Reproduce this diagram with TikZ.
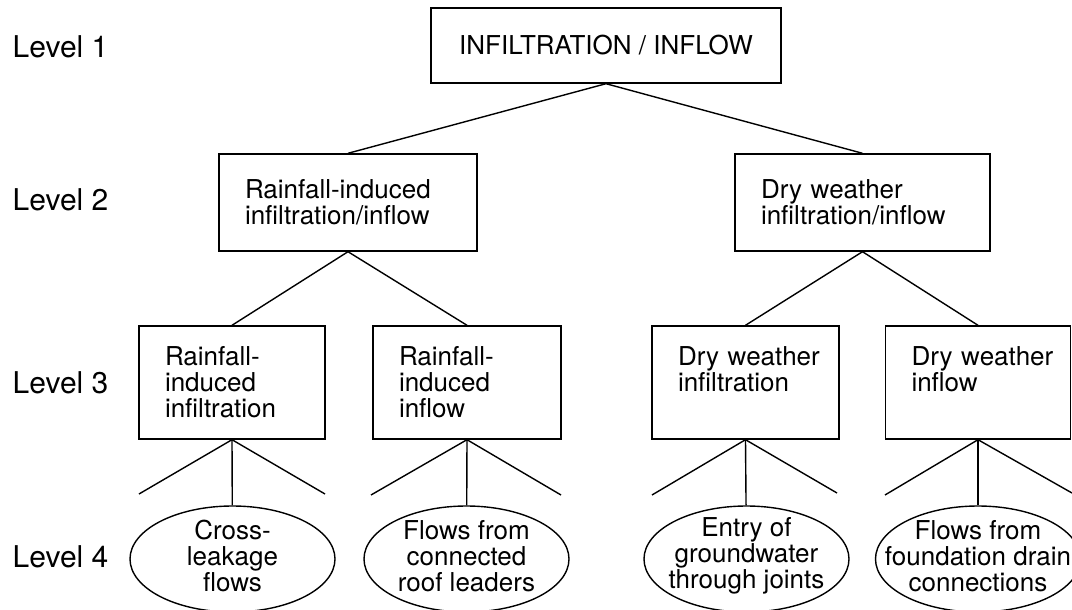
\documentclass[tikz,border=0pt]{standalone}
\usepackage{fontspec}
\setmainfont{TeX Gyre Heros}
\usepackage{tikz}
\usetikzlibrary{shapes.geometric}
\tikzset{
    lvl/.style={anchor=west, inner sep=0pt, font=\fontsize{30}{32}\selectfont},
    box/.style={draw, inner xsep=26pt, inner ysep=0pt, align=left, font=\fontsize{26}{26}\selectfont},
    oval/.style={shape=ellipse, draw, inner sep=0pt, minimum width=205pt, minimum height=106pt},
    ovaltext/.style={align=center, font=\fontsize{26}{26}\selectfont, yshift=3pt}}

\begin{document}
\begin{tikzpicture}[x=1pt, y=-1pt, line width=1.4pt]

        \useasboundingbox (0,0) rectangle (1072,610);

        \node[lvl] (lv1) at (12,47) {Level 1};
        \node[lvl] (lv2) at (12,200) {Level 2};
        \node[lvl] (lv3) at (12,383) {Level 3};
        \node[lvl] (lv4) at (12,557) {Level 4};

        \node[box, align=center, inner xsep=0pt, minimum width=350pt, minimum height=75pt] (L1) at (606,45.5) {INFILTRATION / INFLOW};

        \node[box, text width=206pt, minimum height=97pt] (L2a) at (348,202.5) {Rainfall-induced\\infiltration/inflow};
        \node[box, text width=203pt, minimum height=97pt] (L2b) at (862.5,202.5) {Dry~weather\\infiltration/inflow};

        \node[box, text width=134pt, minimum height=113pt] (L3a) at (232,382.5) {Rainfall-\\induced\\infiltration};
        \node[box, text width=136pt, minimum height=113pt] (L3b) at (467,382.5) {Rainfall-\\induced\\inflow};
        \node[box, text width=135pt, minimum height=113pt] (L3c) at (745.5,382.5) {Dry~weather\\infiltration\\\mbox{}};
        \node[box, text width=133pt, minimum height=113pt] (L3d) at (978,382.5) {Dry~weather\\inflow\\\mbox{}};

        \node[oval, label={[ovaltext]center:Cross-\\leakage\\flows}] (E1) at (232.5,559) {};
        \node[oval, label={[ovaltext]center:Flows from\\connected\\roof leaders}] (E2) at (466.5,559) {};
        \node[oval, label={[ovaltext]center:Entry of\\groundwater\\through joints}] (E3) at (746.5,559) {};
        \node[oval, label={[ovaltext]center:Flows from\\foundation drain\\connections}] (E4) at (978,559) {};

        \coordinate (a1) at (139,494);
        \coordinate (a2) at (325,494);
        \coordinate (b1) at (371,495);
        \coordinate (b2) at (561,495);
        \coordinate (c1) at (652,495);
        \coordinate (c2) at (837,493);
        \coordinate (d1) at (885,495);
        \coordinate (d2) at (1072,493);

        \draw (L1.south) -- (L2a.north);
        \draw (L1.south) -- (L2b.north);
        \draw (L2a.south) -- (L3a.north);
        \draw (L2a.south) -- (L3b.north);
        \draw (L2b.south) -- (L3c.north);
        \draw (L2b.south) -- (L3d.north);

        \draw (L3a.south) -- (a1);
        \draw (L3a.south) -- (E1);
        \draw (L3a.south) -- (a2);
        \draw (L3b.south) -- (b1);
        \draw (L3b.south) -- (E2);
        \draw (L3b.south) -- (b2);
        \draw (L3c.south) -- (c1);
        \draw (L3c.south) -- (E3);
        \draw (L3c.south) -- (c2);
        \draw (L3d.south) -- (d1);
        \draw (L3d.south) -- (E4);
        \draw (L3d.south) -- (d2);

\end{tikzpicture}
\end{document}
